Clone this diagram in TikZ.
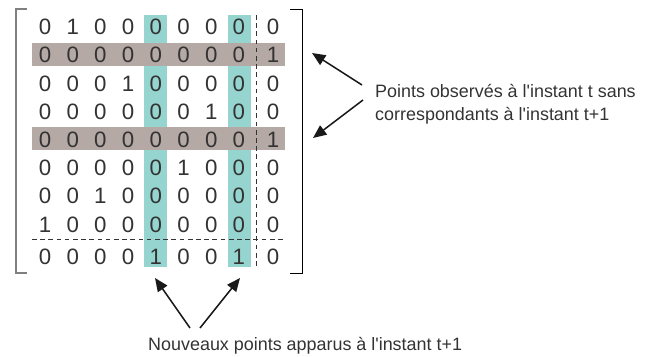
\documentclass[tikz,border=0pt]{standalone}
\usepackage{fontspec}
\setmainfont{Liberation Sans}
\usetikzlibrary{arrows.meta}
\definecolor{Ink}{HTML}{333333}
\definecolor{Teal}{HTML}{96D5CF}
\definecolor{Taupe}{HTML}{B5A9A5}

\begin{document}
\begin{tikzpicture}[x=0.3mm,y=-0.3mm,
  cell/.style={font=\fontsize{19}{22}\selectfont,text=Ink,inner sep=0pt},
  note/.style={font=\fontsize{15.3}{20}\selectfont,text=Ink,inner sep=0pt,align=left},
  sep/.style={Ink,line width=0.8pt,dash pattern=on 4pt off 3pt},
  ptr/.style={-{Triangle[length=4mm,width=3.4mm]},line width=1.3pt,black!90}]
\useasboundingbox (0,0) rectangle (646,356);
% highlighted columns and rows
\fill[Teal] (144,15) rectangle (167,267);
\fill[Teal] (228,15) rectangle (251,267);
\fill[Taupe] (32,43) rectangle (285,66);
\fill[Taupe] (32,127) rectangle (285,150);
% entries
\foreach \r/\row in {1/{0,1,0,0,0,0,0,0,0},2/{0,0,0,0,0,0,0,0,1},3/{0,0,0,1,0,0,0,0,0},
  4/{0,0,0,0,0,0,1,0,0},5/{0,0,0,0,0,0,0,0,1},6/{0,0,0,0,0,1,0,0,0},
  7/{0,0,1,0,0,0,0,0,0},8/{1,0,0,0,0,0,0,0,0},9/{0,0,0,0,1,0,0,1,0}} {
  \foreach \v [count=\c] in \row {
    \pgfmathsetmacro\cx{\c<9 ? 45+27.7*(\c-1) : 273}
    \pgfmathsetmacro\cy{\r<9 ? 27+28.2*(\r-1) : 257}
    \node[cell] (m-\r-\c) at (\cx,\cy) {\v};
  }
}
% separators
\draw[sep] (32,239) -- (286,239);
\draw[sep] (256,15) -- (256,268);
% brackets
\draw[gray,line width=0.9pt] (27,9) -- (16,9) -- (16,273) -- (27,273);
\draw[black,line width=0.7pt] (290,9) -- (302,9) -- (302,273) -- (290,273);
% labels
\node[note,anchor=north west] (lost) at (375,84) {Points observés à l\textquotesingle instant t sans\\correspondants à l\textquotesingle instant t+1};
\node[note,anchor=base west] (new) at (148,350) {Nouveaux points apparus à l\textquotesingle instant t+1};
\coordinate (lost-t1) at (362,85);
\coordinate (lost-t2) at (363,100);
\coordinate (lost-h1) at (312,53);
\coordinate (lost-h2) at (313,138);
\coordinate (new-t1) at (190,328);
\coordinate (new-t2) at (200,328);
\coordinate (new-h1) at (155,278);
\coordinate (new-h2) at (240,278);
\draw[ptr] (lost-t1) -- (lost-h1);
\draw[ptr] (lost-t2) -- (lost-h2);
\draw[ptr] (new-t1) -- (new-h1);
\draw[ptr] (new-t2) -- (new-h2);
\end{tikzpicture}
\end{document}
